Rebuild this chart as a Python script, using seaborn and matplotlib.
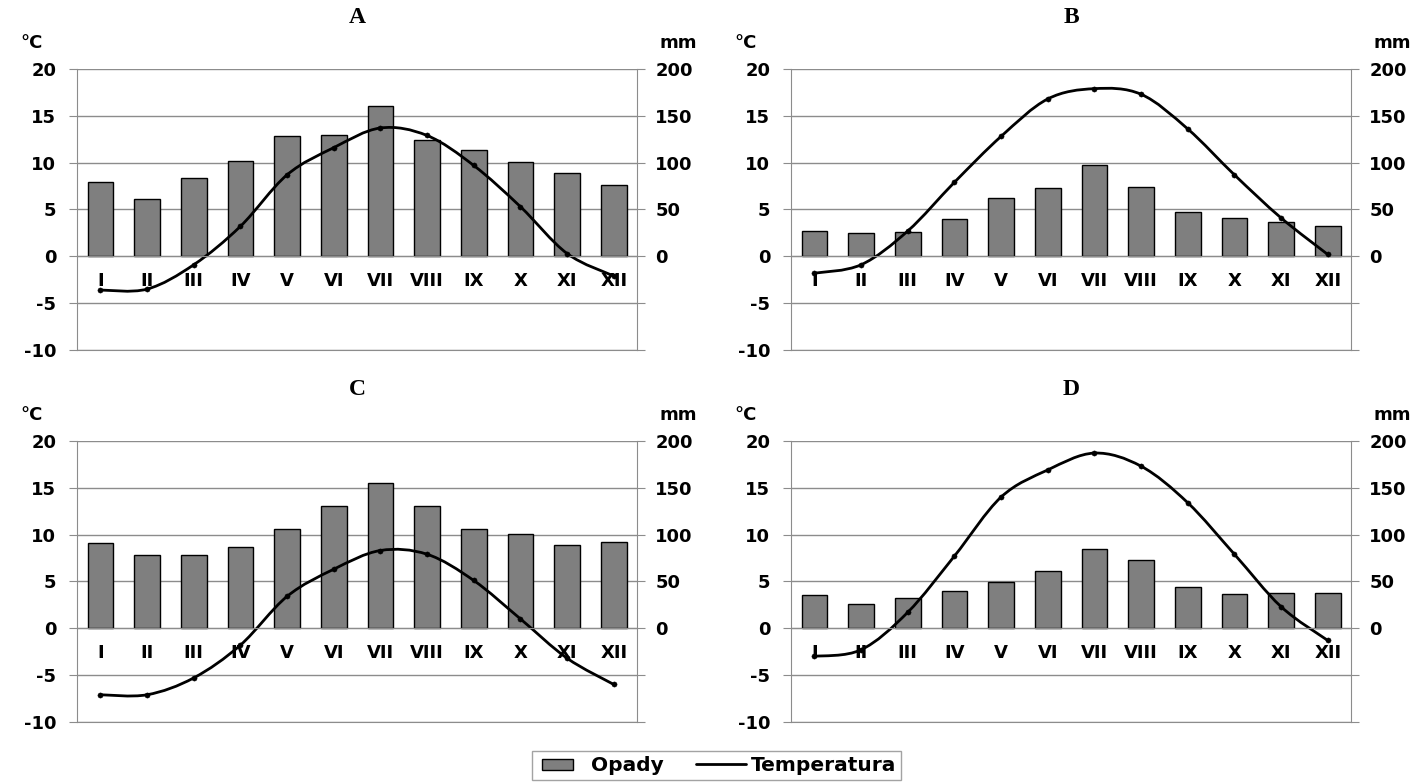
import numpy as np
import pandas as pd
import seaborn as sns
import matplotlib.pyplot as plt
from matplotlib.path import Path
from matplotlib.patches import PathPatch, Patch, Rectangle
from matplotlib.lines import Line2D
from matplotlib.legend_handler import HandlerPatch

months = ["I", "II", "III", "IV", "V", "VI", "VII", "VIII", "IX", "X", "XI", "XII"]

# precipitation (mm) and temperature (°C) per station
precip_a = [79, 61, 84, 102, 128, 129, 161, 124, 113, 101, 89, 76]
temp_a = [-3.6, -3.5, -0.9, 3.2, 8.7, 11.6, 13.7, 12.9, 9.7, 5.3, 0.3, -2.1]

precip_b = [27, 25, 26, 40, 62, 73, 97, 74, 47, 41, 37, 32]
temp_b = [-1.8, -0.9, 2.7, 7.9, 12.8, 16.8, 17.9, 17.3, 13.6, 8.7, 4.1, 0.2]

precip_c = [91, 78, 78, 87, 106, 131, 155, 131, 106, 101, 89, 92]
temp_c = [-7.1, -7.1, -5.3, -1.8, 3.4, 6.3, 8.3, 7.9, 5.1, 1.0, -3.2, -6.0]

precip_d = [35, 26, 32, 40, 49, 61, 85, 73, 44, 37, 38, 38]
temp_d = [-3.0, -2.3, 1.7, 7.7, 14.0, 16.9, 18.7, 17.3, 13.4, 7.9, 2.3, -1.3]

panels = [
    ("A", precip_a, temp_a, [0.0541, 0.553, 0.3933, 0.3589]),
    ("B", precip_b, temp_b, [0.5555, 0.553, 0.3933, 0.3589]),
    ("C", precip_c, temp_c, [0.0541, 0.078, 0.3933, 0.3589]),
    ("D", precip_d, temp_d, [0.5555, 0.078, 0.3933, 0.3589]),
]

BAR = "#7f7f7f"
GRID = "#8c8c8c"
FONT = "DejaVu Sans"


def _smooth_path(xs, ys):
    """Catmull-Rom style bezier through the points (like excel smoothed line)."""
    pts = np.column_stack([xs, ys]).astype(float)
    n = len(pts)
    verts = [pts[0]]
    codes = [Path.MOVETO]
    for i in range(n - 1):
        p0 = pts[i - 1] if i > 0 else pts[i]
        p1 = pts[i]
        p2 = pts[i + 1]
        p3 = pts[i + 2] if i + 2 < n else pts[i + 1]
        c1 = p1 + (p2 - p0) / 6.0
        c2 = p2 - (p3 - p1) / 6.0
        verts += [c1, c2, p2]
        codes += [Path.CURVE4] * 3
    return Path(verts, codes)


def _draw_panel(fig, title, precip, temp, rect):
    ax = fig.add_axes(rect)
    ax2 = ax.twinx()
    ax.set_zorder(2)
    ax2.set_zorder(1)
    ax.patch.set_visible(False)

    df = pd.DataFrame({"month": months, "precip": precip, "temp": temp})

    sns.barplot(data=df, x="month", y="precip", ax=ax2, color=BAR,
                edgecolor="black", linewidth=1.0, width=0.55, saturation=1)
    ax2.set_ylim(-100, 200)
    ax2.set_yticks(np.arange(-100, 201, 50))
    ax2.set_yticklabels([str(v) if v >= 0 else "" for v in range(-100, 201, 50)])
    ax2.yaxis.grid(True, color=GRID, linewidth=1.0)
    ax2.set_axisbelow(True)
    ax2.set_ylabel("")
    for s in ["top", "left"]:
        ax2.spines[s].set_visible(False)
    ax2.spines["bottom"].set_color(GRID)
    ax2.spines["right"].set_color(GRID)
    ax2.tick_params(axis="y", length=6, color=GRID, labelcolor="black",
                    labelsize=13, pad=7)

    xs = np.arange(len(months))
    ax.add_patch(PathPatch(_smooth_path(xs, temp), facecolor="none",
                           edgecolor="black", linewidth=2.0))
    sns.scatterplot(x=xs, y=temp, ax=ax, color="black", s=14, zorder=3,
                    edgecolor="black", legend=False)
    ax.set_ylim(-10, 20)
    ax.set_xlim(-0.5, 11.5)
    ax.set_yticks(np.arange(-10, 21, 5))
    ax.set_xticks(xs)
    ax.set_xticklabels(months)
    ax.set_xticks(np.arange(-0.5, 12, 1), minor=True)
    ax.spines["top"].set_visible(False)
    ax.spines["right"].set_visible(False)
    ax.spines["left"].set_color(GRID)
    ax.spines["bottom"].set_position(("data", 0))
    ax.spines["bottom"].set_color(GRID)
    ax.tick_params(axis="y", length=6, color=GRID, labelcolor="black",
                   labelsize=13, pad=9)
    ax.tick_params(axis="x", which="major", length=0, labelcolor="black",
                   labelsize=13, pad=11)
    ax.tick_params(axis="x", which="minor", length=3, color=GRID)
    ax.set_xlabel("")
    ax.set_ylabel("")

    for lab in ax.get_yticklabels() + ax2.get_yticklabels() + ax.get_xticklabels():
        lab.set_fontweight("bold")
        lab.set_fontfamily(FONT)

    ax.text(-0.102, 1.06, "°C", transform=ax.transAxes, fontsize=13,
            fontweight="bold", family=FONT, ha="left", va="bottom", color="black")
    ax.text(1.107, 1.06, "mm", transform=ax.transAxes, fontsize=13,
            fontweight="bold", family=FONT, ha="right", va="bottom", color="black")
    ax.set_title(title, fontsize=17, fontweight="bold", family="Liberation Serif",
                 pad=33, color="black")
    return ax


def _small_box(legend, orig_handle, xdescent, ydescent, width, height, fontsize):
    w = width * 0.62
    return Rectangle((-xdescent + width * 0.1, -ydescent + height * 0.05), w, height * 0.8)


sns.set_style("white")
plt.rcParams["axes.unicode_minus"] = False
plt.rcParams["text.color"] = "black"
fig = plt.figure(figsize=(14.24, 7.83), dpi=100)

for title, precip, temp, rect in panels:
    _draw_panel(fig, title, precip, temp, rect)

handles = [
    Patch(facecolor=BAR, edgecolor="black", label="Opady"),
    Line2D([0], [0], color="black", linewidth=2, label="Temperatura"),
]
fig.legend(handles=handles, loc="upper center", bbox_to_anchor=(0.503, 0.041),
           ncol=2, frameon=True, fancybox=False, edgecolor=GRID, borderpad=0.25,
           handlelength=2.5, handletextpad=0.2, columnspacing=1.6,
           borderaxespad=0,
           handler_map={Patch: HandlerPatch(patch_func=_small_box)},
           prop={"family": FONT, "weight": "bold", "size": 14.5})

fig.savefig("out.png", dpi=100)
